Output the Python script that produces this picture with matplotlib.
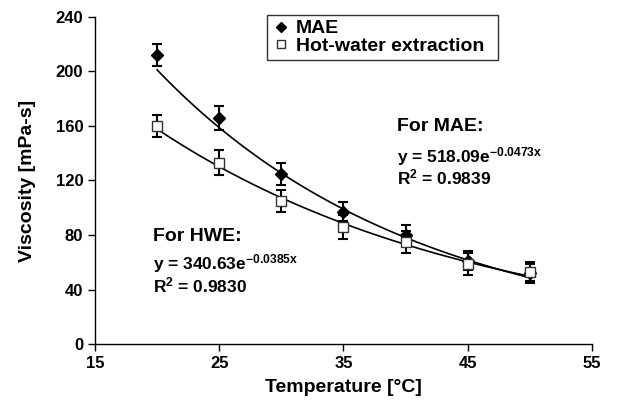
import numpy as np
import matplotlib.pyplot as plt

plt.rcParams['font.family'] = ['Liberation Sans', 'DejaVu Sans']
plt.rcParams['font.weight'] = 'bold'
plt.rcParams['mathtext.fontset'] = 'custom'
plt.rcParams['mathtext.rm'] = 'Liberation Sans:bold'
plt.rcParams['mathtext.it'] = 'Liberation Sans:bold'
plt.rcParams['mathtext.bf'] = 'Liberation Sans:bold'

temp = [20, 25, 30, 35, 40, 45, 50]
mae = [212, 166, 125, 97, 80, 61, 52]
mae_err = [8, 9, 8, 7, 7, 7, 7]
hwe = [160, 133, 105, 86, 75, 59, 53]
hwe_err = [8, 9, 8, 9, 8, 8, 7]

# exponential trendlines from the reported fits
mae_a, mae_b = 518.09, -0.0473
hwe_a, hwe_b = 340.63, -0.0385

fig = plt.figure(figsize=(6.44, 4.13), dpi=100)
ax = fig.add_axes([0.1475, 0.167, 0.7715, 0.792])

xs = np.linspace(20, 50, 200)
ax.plot(xs, mae_a * np.exp(mae_b * xs), color='black', lw=1.2)
ax.plot(xs, hwe_a * np.exp(hwe_b * xs), color='black', lw=1.2)

ax.errorbar(temp, mae, yerr=mae_err, fmt='D', color='black', mfc='black',
            ms=6, capsize=3.3, elinewidth=1.5, capthick=1.5, label='MAE', zorder=3)
ax.errorbar(temp, hwe, yerr=hwe_err, fmt='s', color='black', mfc='white',
            mec='#333333', ms=6.5, capsize=3.3, elinewidth=1.5, capthick=1.5,
            label='Hot-water extraction', zorder=3)

ax.set_xlim(15, 55)
ax.set_ylim(0, 240)
ax.set_xticks([15, 25, 35, 45, 55])
ax.set_yticks(range(0, 241, 40))
ax.tick_params(labelsize=12, width=1, length=5, direction='out')
for lab in ax.get_xticklabels() + ax.get_yticklabels():
    lab.set_fontweight('bold')
for s in ['top', 'right']:
    ax.spines[s].set_visible(False)
for s in ['left', 'bottom']:
    ax.spines[s].set_linewidth(1)

ax.set_xlabel('Temperature [°C]', fontsize=14, fontweight='bold', labelpad=6)
ax.set_ylabel('Viscosity [mPa-s]', fontsize=14, fontweight='bold', labelpad=14)

handles, labels = ax.get_legend_handles_labels()
handles = [h[0] for h in handles]
leg = fig.legend(handles, labels, loc='upper left', mode='expand',
                 bbox_to_anchor=(266.7 / 644, 1 - 58 / 413, 231 / 644, 43 / 413),
                 bbox_transform=fig.transFigure, borderaxespad=0,
                 frameon=True, fancybox=False, edgecolor='black',
                 prop={'size': 14, 'weight': 'bold'},
                 handletextpad=0.31, borderpad=0.25, labelspacing=0.0,
                 handlelength=0.94, markerscale=0.8)
leg.get_frame().set_linewidth(1)

ax.text(39.3, 156.5, 'For MAE:', fontsize=14, fontweight='bold', va='baseline')
ax.text(39.3, 133.5, r'y = 518.09e$^{-0.0473x}$', fontsize=12.5, fontweight='bold', va='baseline')
ax.text(39.3, 117.0, r'R$^{2}$ = 0.9839', fontsize=12.5, fontweight='bold', va='baseline')

ax.text(19.64, 75.5, 'For HWE:', fontsize=14, fontweight='bold', va='baseline')
ax.text(19.64, 55.0, r'y = 340.63e$^{-0.0385x}$', fontsize=12.5, fontweight='bold', va='baseline')
ax.text(19.64, 38.0, r'R$^{2}$ = 0.9830', fontsize=12.5, fontweight='bold', va='baseline')

fig.savefig('out.png', dpi=100)
